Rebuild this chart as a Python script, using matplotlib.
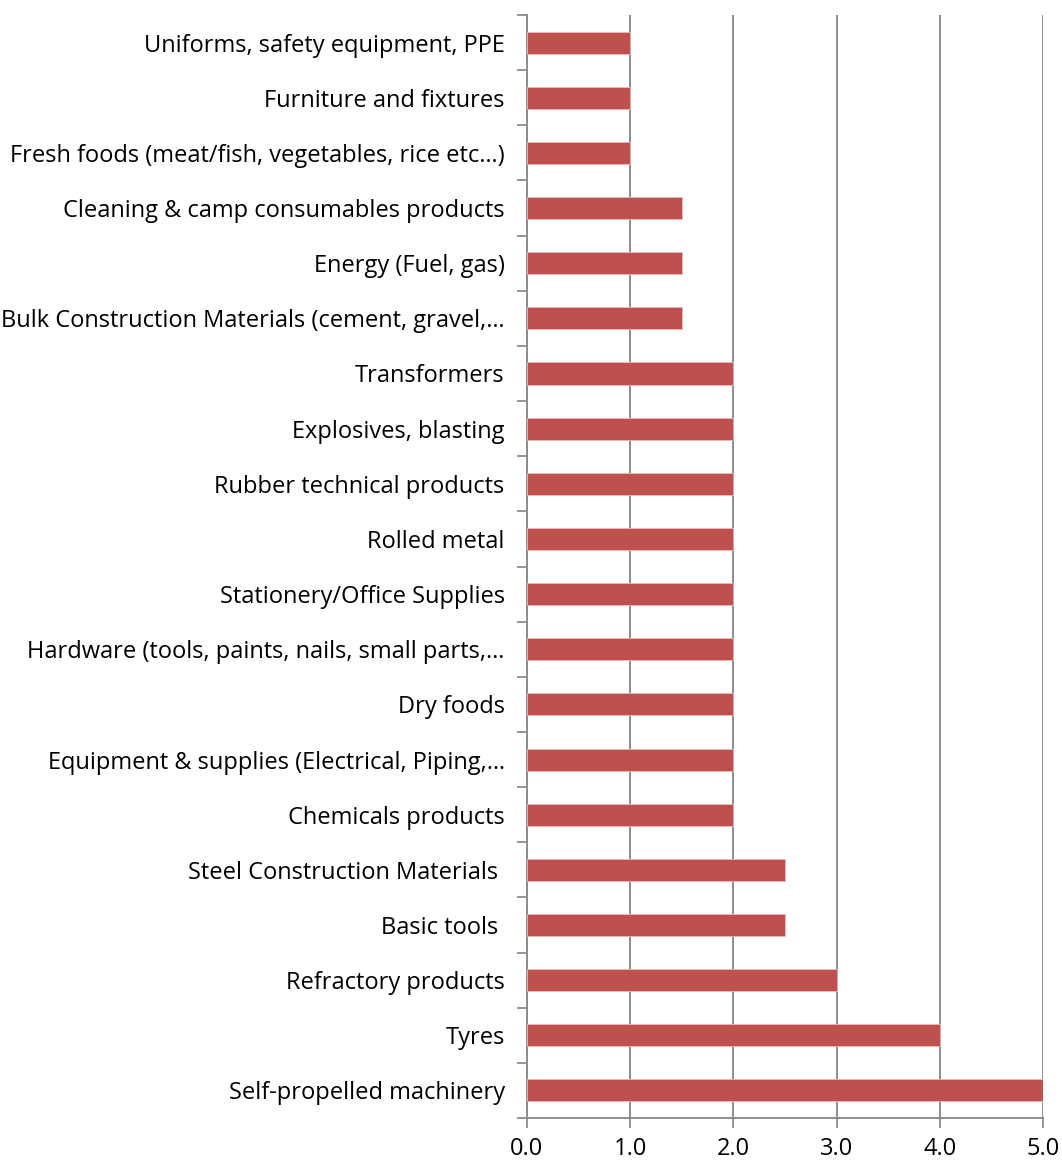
import matplotlib
matplotlib.use("Agg")
import matplotlib.pyplot as plt
import numpy as np

categories = [
    "Self-propelled machinery",
    "Tyres",
    "Refractory products",
    "Basic tools ",
    "Steel Construction Materials ",
    "Chemicals products",
    "Equipment & supplies (Electrical, Piping,…",
    "Dry foods",
    "Hardware (tools, paints, nails, small parts,…",
    "Stationery/Office Supplies",
    "Rolled metal",
    "Rubber technical products",
    "Explosives, blasting",
    "Transformers",
    "Bulk Construction Materials (cement, gravel,…",
    "Energy (Fuel, gas)",
    "Cleaning & camp consumables products",
    "Fresh foods (meat/fish, vegetables, rice etc…)",
    "Furniture and fixtures",
    "Uniforms, safety equipment, PPE",
]
values = [5.0, 4.0, 3.0, 2.5, 2.5, 2.0, 2.0, 2.0, 2.0, 2.0,
          2.0, 2.0, 2.0, 2.0, 1.5, 1.5, 1.5, 1.0, 1.0, 1.0]
xticks = [0.0, 1.0, 2.0, 3.0, 4.0, 5.0]

plt.rcParams['font.family'] = ['Open Sans', 'DejaVu Sans']

fig = plt.figure(figsize=(10.62, 11.64), dpi=100)
ax = fig.add_axes([0.4962, 0.0395, 0.9821 - 0.4962, 0.9871 - 0.0395])

grey = "#8c8c8c"
y = np.arange(len(categories))
ax.barh(y, values, height=0.4, color="#C0504D", edgecolor="#e8b9b8",
        linewidth=0.6, zorder=3)

ax.set_xlim(0, 5)
ax.set_ylim(-0.5, len(categories) - 0.5)
ax.set_xticks(xticks)
ax.set_xticklabels([f"{t:.1f}" for t in xticks], fontsize=17, color="black")
ax.set_yticks(y)
ax.set_yticklabels(categories, fontsize=17, color="black")
ax.set_yticks(np.arange(-0.5, len(categories), 1.0), minor=True)

ax.tick_params(axis="y", which="major", length=0, pad=16)
ax.tick_params(axis="y", which="minor", length=7, width=1.3, color=grey, direction="out")
ax.tick_params(axis="x", which="major", length=7, width=1.3, color=grey, pad=7)

ax.grid(axis="x", color=grey, linewidth=1.4, zorder=0)
ax.set_axisbelow(True)
for s in ["top", "right"]:
    ax.spines[s].set_visible(False)
for s in ["left", "bottom"]:
    ax.spines[s].set_color(grey)
    ax.spines[s].set_linewidth(1.4)

fig.savefig("out.png", dpi=100, facecolor="white")
